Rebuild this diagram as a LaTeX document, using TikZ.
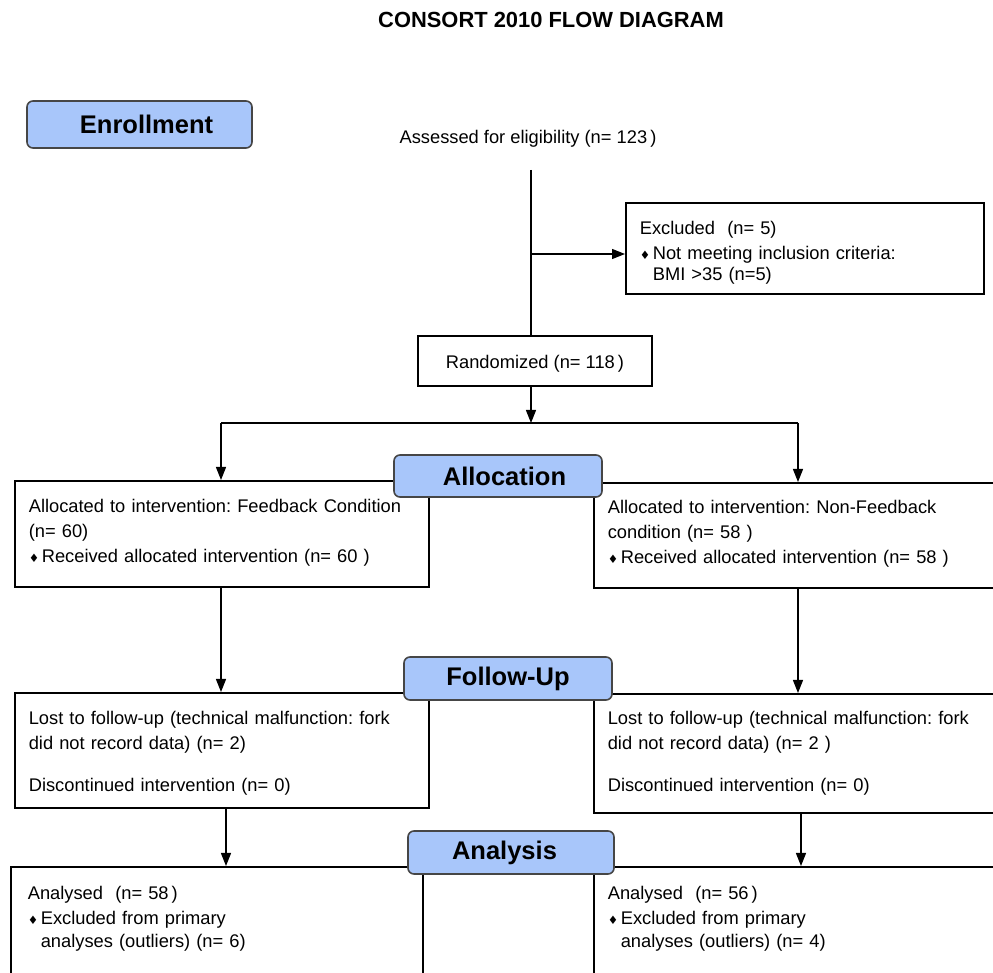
\documentclass[tikz,border=0pt]{standalone}
\usepackage{fontspec}
\setmainfont{Liberation Sans}
\newfontfamily\symfont{DejaVu Sans}
\usetikzlibrary{arrows.meta}

\definecolor{phaseblue}{RGB}{168,198,250}
\definecolor{phaseline}{RGB}{70,70,70}
\newcommand{\dmd}{\makebox[6.5pt][l]{{\symfont\fontsize{5.8}{5.8}\selectfont ♦}}}
\newcommand{\dmdskip}{\hspace*{6.5pt}}

\begin{document}
\frenchspacing
\begin{tikzpicture}[x=0.5pt,y=-0.5pt,
  bodytext/.style={font=\fontsize{9.15}{12.5}\selectfont},
  databox/.style={bodytext,draw,line width=0.8pt,anchor=north west,align=left,inner ysep=0pt,inner xsep=7pt},
  plainbox/.style={bodytext,draw,line width=0.8pt},
  phase/.style={draw=phaseline,fill=phaseblue,rounded corners=3pt,line width=0.8pt,
    font=\bfseries\fontsize{12.75}{15}\selectfont},
  arr/.style={-{Triangle[length=6.5pt,width=5pt]},line width=0.6pt},
  link/.style={line width=0.6pt}]
  \useasboundingbox (0,0) rectangle (993,973);
  \clip (0,0) rectangle (993,973);

  \node[font=\bfseries\fontsize{10.95}{13}\selectfont] (title) at (551,20) {CONSORT 2010 FLOW DIAGRAM};

  % enrollment
  \node[bodytext] (assess) at (528,139) {Assessed for eligibility (n= 123\,)};
  \node[databox,text width=165pt,text height=16pt,text depth=29.5pt] (excl) at (625,202)
    {Excluded\ \ (n= 5)\\\dmd Not meeting inclusion criteria:\\[-2pt]\dmdskip BMI >35 (n=5)};
  \node[plainbox,minimum width=117pt,minimum height=25pt,text height=9pt,text depth=1.3pt] (rand) at (535,361)
    {Randomized (n= 118\,)};

  % allocation
  \node[databox,text width=193pt,text height=16pt,text depth=37pt] (alloc1) at (14,480)
    {Allocated to intervention: Feedback Condition\\(n= 60)\\\dmd Received allocated intervention (n= 60 )};
  \node[databox,text width=196pt,text height=15.5pt,text depth=37pt] (alloc2) at (593,482)
    {Allocated to intervention: Non-Feedback\\condition (n= 58 )\\\dmd Received allocated intervention (n= 58 )};

  % follow-up
  \node[databox,text width=193pt,text height=15.8pt,text depth=41.7pt] (fu1) at (14,692)
    {Lost to follow-up (technical malfunction: fork\\did not record data) (n= 2)\\[8.5pt]Discontinued intervention (n= 0)};
  \node[databox,text width=196pt,text height=15.3pt,text depth=44.2pt] (fu2) at (593,693)
    {Lost to follow-up (technical malfunction: fork\\did not record data) (n= 2 )\\[8.5pt]Discontinued intervention (n= 0)};

  % analysis
  \node[databox,inner xsep=8.5pt,text width=189pt,text height=16.5pt,text depth=74pt] (ana1) at (10,866)
    {Analysed\ \ (n= 58\,)\\\dmd Excluded from primary\\[-1pt]\dmdskip analyses (outliers) (n= 6)};
  \node[databox,text width=196pt,text height=16.5pt,text depth=74pt] (ana2) at (593,866)
    {Analysed\ \ (n= 56\,)\\\dmd Excluded from primary\\[-1pt]\dmdskip analyses (outliers) (n= 4)};

  \coordinate (top) at (531,170);
  \coordinate (split) at (531,254);
  \coordinate (fork) at (531,423);
  \coordinate (forkL) at (221,423);
  \coordinate (forkR) at (798,423);

  \draw[link] (top) -- (top |- rand.north);
  \draw[arr] (split) -- (split -| excl.west);
  \draw[arr] (fork |- rand.south) -- (fork);
  \draw[link] (forkL) -- (forkR);
  \draw[arr] (forkL) -- (forkL |- alloc1.north);
  \draw[arr] (forkR) -- (forkR |- alloc2.north);
  \draw[arr] (forkL |- alloc1.south) -- (forkL |- fu1.north);
  \draw[arr] (forkR |- alloc2.south) -- (forkR |- fu2.north);
  \draw[arr] ([xshift=2.5pt]forkL |- fu1.south) -- ([xshift=2.5pt]forkL |- ana1.north);
  \draw[arr] ([xshift=1.5pt]forkR |- fu2.south) -- ([xshift=1.5pt]forkR |- ana2.north);

  % phase labels on top
  \node[phase,minimum width=112.5pt,minimum height=23.5pt] (enroll) at (139.5,124.5) {\hspace*{7pt}Enrollment};
  \node[phase,minimum width=104pt,minimum height=21pt] (allocp) at (498,476) {\hspace*{6.5pt}Allocation};
  \node[phase,minimum width=104pt,minimum height=21.5pt] (fup) at (508,678.5) {Follow-Up};
  \node[phase,minimum width=103pt,minimum height=21.5pt] (anap) at (511,852.5) {Analysis\hspace*{6.5pt}};
\end{tikzpicture}
\end{document}
